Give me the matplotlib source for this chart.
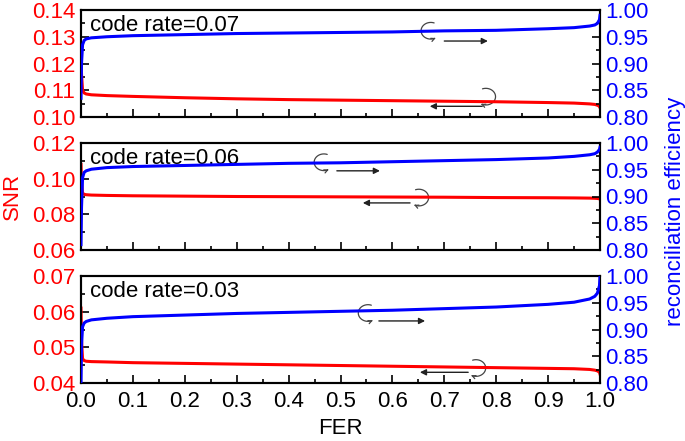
#!/usr/bin/env python3
"""
SNR and reconciliation efficiency versus FER for three code rates.
"""

import numpy as np
import matplotlib
matplotlib.use("Agg")
import matplotlib.pyplot as plt
from matplotlib.ticker import MultipleLocator
from matplotlib.patches import FancyArrowPatch
from matplotlib.path import Path
from matplotlib.transforms import Affine2D, ScaledTranslation

plt.rcParams['font.family'] = ['Liberation Sans', 'DejaVu Sans']

code_rates = ["0.07", "0.06", "0.03"]

fer = [0.0, 0.001, 0.003, 0.006, 0.01, 0.02, 0.05, 0.1, 0.2, 0.3, 0.4, 0.5,
       0.6, 0.7, 0.8, 0.9, 0.95, 0.98, 0.99, 0.995, 0.999, 1.0]

snr_07 = [0.124, 0.116, 0.110, 0.1090, 0.1086, 0.1083, 0.1080, 0.1077, 0.1072, 0.1068,
          0.1065, 0.1063, 0.1061, 0.1059, 0.1057, 0.1054, 0.1052, 0.1049, 0.1047, 0.1044,
          0.1040, 0.1035]
eff_07 = [0.835, 0.90, 0.935, 0.943, 0.946, 0.948, 0.950, 0.952, 0.954, 0.956,
          0.957, 0.958, 0.959, 0.961, 0.962, 0.965, 0.967, 0.970, 0.972, 0.975,
          0.982, 0.990]

snr_06 = [0.108, 0.098, 0.0920, 0.0912, 0.0910, 0.0908, 0.0906, 0.0904, 0.0902, 0.0900,
          0.0899, 0.0898, 0.0897, 0.0896, 0.0894, 0.0893, 0.0892, 0.0891, 0.0890, 0.0889,
          0.0887, 0.0885]
eff_06 = [0.810, 0.88, 0.935, 0.945, 0.948, 0.951, 0.954, 0.956, 0.958, 0.960,
          0.962, 0.963, 0.965, 0.967, 0.969, 0.972, 0.975, 0.978, 0.980, 0.983,
          0.988, 0.992]

snr_03 = [0.061, 0.052, 0.0468, 0.0463, 0.0461, 0.0460, 0.0459, 0.0457, 0.0455, 0.0453,
          0.0451, 0.0449, 0.0447, 0.0445, 0.0443, 0.0441, 0.0440, 0.0438, 0.0436, 0.0434,
          0.0430, 0.0425]
eff_03 = [0.800, 0.87, 0.905, 0.912, 0.915, 0.918, 0.921, 0.924, 0.927, 0.930,
          0.932, 0.934, 0.936, 0.939, 0.942, 0.947, 0.951, 0.957, 0.962, 0.968,
          0.982, 1.000]

snr_series = [snr_07, snr_06, snr_03]
eff_series = [eff_07, eff_06, eff_03]

snr_limits = [(0.10, 0.14), (0.06, 0.12), (0.04, 0.07)]
snr_major = [0.01, 0.02, 0.01]

# curl centre (FER, axes fraction), straight arrow x0 -> x1 at height y
blue_arrows = [((0.674, 0.806), 0.700, 0.784, 0.71),
               ((0.468, 0.82), 0.493, 0.576, 0.74),
               ((0.553, 0.654), 0.574, 0.663, 0.58)]
red_arrows = [((0.780, 0.19), 0.773, 0.672, 0.10),
              ((0.651, 0.49), 0.634, 0.543, 0.44),
              ((0.761, 0.14), 0.746, 0.653, 0.10)]

RED = '#ff0000'
BLUE = '#0000ff'

fig = plt.figure(figsize=(6.85, 4.41), dpi=100)

bottoms = [1 - 117 / 441, 1 - 250 / 441, 1 - 383 / 441]
height = 107 / 441
left = 81 / 685
width = 519 / 685


def curl_path(clockwise):
    # small open loop in points, like the hand-drawn curl in the figure
    if clockwise:
        theta = np.radians(np.linspace(110, -120, 40))
    else:
        theta = np.radians(np.linspace(70, 300, 40))
    verts = np.column_stack([7.0 * np.cos(theta), 6.0 * np.sin(theta)])
    return Path(verts)


def draw_arrows(ax, spec, clockwise):
    centre, x0, x1, ay = spec
    tr = ax.get_xaxis_transform()
    trans = Affine2D().scale(fig.dpi / 72.0) + ScaledTranslation(centre[0], centre[1], tr)
    curl = FancyArrowPatch(path=curl_path(clockwise), arrowstyle='->',
                           mutation_scale=6, color='#444444', lw=0.9,
                           transform=trans)
    ax.add_patch(curl)
    ax.annotate("", xy=(x1, ay), xytext=(x0, ay), xycoords=tr, textcoords=tr,
                arrowprops=dict(arrowstyle='-|>', color='#222222', lw=1.0,
                                mutation_scale=9, shrinkA=0, shrinkB=0))


for i in range(3):
    ax = fig.add_axes([left, bottoms[i], width, height])
    ax2 = ax.twinx()

    ax.plot(fer, snr_series[i], color=RED, lw=2.2, zorder=3)
    ax2.plot(fer, eff_series[i], color=BLUE, lw=2.2, zorder=3)

    ax.set_xlim(0, 1.0)
    ax.set_ylim(*snr_limits[i])
    ax2.set_ylim(0.80, 1.00)

    ax.xaxis.set_major_locator(MultipleLocator(0.1))
    ax.xaxis.set_minor_locator(MultipleLocator(0.05))
    ax.yaxis.set_major_locator(MultipleLocator(snr_major[i]))
    ax.yaxis.set_minor_locator(MultipleLocator(snr_major[i] / 2))
    ax2.yaxis.set_major_locator(MultipleLocator(0.05))
    ax2.yaxis.set_minor_locator(MultipleLocator(0.025))
    ax.yaxis.set_major_formatter(plt.FormatStrFormatter("%.2f"))
    ax2.yaxis.set_major_formatter(plt.FormatStrFormatter("%.2f"))

    ax.tick_params(axis='both', which='major', direction='in', length=6, width=1.2,
                   labelsize=16, top=False)
    ax.tick_params(axis='both', which='minor', direction='in', length=3, width=1.2,
                   top=False)
    ax.tick_params(axis='y', labelcolor=RED, right=False, pad=4)
    ax.tick_params(axis='y', which='minor', right=False)
    ax2.tick_params(axis='y', which='major', direction='in', length=6, width=1.2,
                    labelsize=16, labelcolor=BLUE, pad=4)
    ax2.tick_params(axis='y', which='minor', direction='in', length=3, width=1.2)

    if i < 2:
        ax.tick_params(axis='x', labelbottom=False)
    else:
        ax.tick_params(axis='x', labelsize=16, pad=6)

    for sp in list(ax.spines.values()) + list(ax2.spines.values()):
        sp.set_linewidth(1.5)

    ax.text(0.018, 0.95, "code rate=" + code_rates[i], transform=ax.transAxes,
            fontsize=16, va='top', ha='left')

    draw_arrows(ax, blue_arrows[i], clockwise=False)
    draw_arrows(ax, red_arrows[i], clockwise=True)

    if i == 2:
        ax.set_xlabel("FER", fontsize=16, labelpad=4)

fig.text(12 / 685, 1 - 196 / 441, "SNR", color=RED, fontsize=16,
         rotation=90, ha='center', va='center')
fig.text(676 / 685, 1 - 211 / 441, "reconciliation efficiency", color=BLUE,
         fontsize=16, rotation=90, ha='center', va='center')

plt.savefig('out.png', dpi=100)
